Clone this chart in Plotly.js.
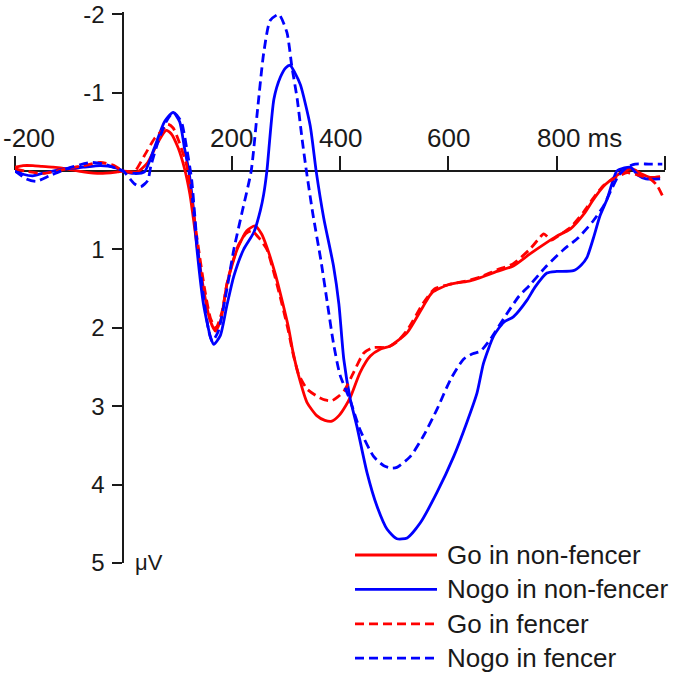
<!DOCTYPE html>
<html>
<head>
<meta charset="utf-8">
<script src="https://cdn.plot.ly/plotly-3.0.1.min.js"></script>
<style>html,body{margin:0;padding:0;background:#fff}</style>
</head>
<body>
<div id="chart" style="width:675px;height:682px"></div>
<script>
// ---- data (time in ms, amplitude in µV; negative plotted upward) ----
const seriesNames = ["Go in non-fencer", "Nogo in non-fencer", "Go in fencer", "Nogo in fencer"];
const seriesColors = ["#ff0000", "#0000ff", "#ff0000", "#0000ff"];
const seriesDash = ["solid", "solid", "9px,5px", "9px,5px"];

const tGoNon = [-200,-185,-167,-150,-130,-105,-74,-42,-11,0,26,45,64,79,88,101,113,123,136,148,160,170,180,191,210,228,243,255,265,280,293,305,313,324,339,357,372,385,398,410,420,437,456,475,493,524,554,570,600,640,659,690,720,750,782,800,825,850,868,887,910,924,939,955,973,991];
const vGoNon = [-0.05,-0.07,-0.07,-0.06,-0.05,-0.03,0.01,0.03,0.01,0,0.01,-0.11,-0.37,-0.52,-0.48,-0.3,-0.03,0.3,0.95,1.5,1.9,2.04,1.9,1.45,1.0,0.76,0.7,0.8,0.97,1.3,1.65,2.0,2.3,2.62,2.95,3.12,3.18,3.19,3.12,3.0,2.87,2.57,2.36,2.27,2.23,2.06,1.72,1.55,1.45,1.40,1.36,1.28,1.21,1.06,0.91,0.83,0.74,0.55,0.36,0.19,0.06,0.0,-0.03,0.03,0.08,0.07];

const tNogoNon = [-200,-185,-167,-150,-136,-105,-74,-42,-17,0,20,39,57,76,92,104,113,121,129,136,148,161,167,179,191,204,222,241,253,259,265,278,290,300,308,317,327,345,356,370,388,398,407,419,431,450,468,487,505,524,548,579,610,634,653,665,684,702,720,745,760,782,800,831,845,856,868,880,893,911,925,936,950,965,991];
const vNogoNon = [0.0,0.04,0.06,0.03,0.01,-0.03,-0.05,-0.07,-0.05,0,0.03,0.01,-0.29,-0.63,-0.75,-0.63,-0.29,0.0,0.45,1.0,1.7,2.12,2.21,2.1,1.72,1.34,1.0,0.78,0.5,0.3,0.0,-0.92,-1.2,-1.32,-1.35,-1.25,-1.1,-0.58,0.0,0.6,1.21,1.7,2.4,2.91,3.25,3.85,4.27,4.57,4.69,4.68,4.49,4.1,3.64,3.21,2.83,2.45,2.1,1.93,1.86,1.65,1.48,1.3,1.28,1.27,1.2,1.1,0.85,0.57,0.36,0.0,-0.04,-0.05,0.05,0.1,0.1];

const tGoFen = [-200,-180,-150,-130,-105,-74,-42,-17,0,20,39,57,72,82,92,101,117,126,138,150,161,171,182,193,212,226,237,250,265,280,293,305,314,324,339,357,372,385,396,407,425,444,462,487,505,524,554,575,600,640,659,690,720,750,765,776,790,800,825,850,868,887,910,930,950,973,985,995];
const vGoFen = [-0.03,0.0,0.03,0.01,-0.03,-0.07,-0.11,-0.07,0,0.01,-0.2,-0.41,-0.52,-0.6,-0.55,-0.41,-0.07,0.35,0.95,1.5,1.88,2.0,1.8,1.38,0.95,0.8,0.76,0.85,1.0,1.35,1.7,2.05,2.35,2.6,2.78,2.87,2.92,2.93,2.88,2.81,2.57,2.32,2.25,2.25,2.18,2.03,1.68,1.5,1.45,1.39,1.35,1.26,1.18,1.0,0.88,0.8,0.88,0.84,0.72,0.52,0.34,0.18,0.08,0.02,0.05,0.1,0.18,0.31];

const tNogoFen = [-200,-179,-161,-136,-105,-61,-36,-11,0,20,32,45,51,64,79,92,107,117,126,136,148,158,164,175,190,204,220,236,248,259,271,287,302,311,321,330,338,350,365,377,388,400,419,437,462,481,495,505,530,554,579,604,628,645,659,677,708,730,751,780,813,840,868,887,900,915,930,945,970,995];
const vNogoFen = [0.0,0.1,0.13,0.06,-0.03,-0.11,-0.09,-0.03,0,0.16,0.2,0.12,-0.07,-0.37,-0.63,-0.75,-0.63,-0.29,0.1,0.9,1.6,2.05,2.17,2.05,1.55,1.0,0.5,0.0,-0.8,-1.5,-1.92,-2.0,-1.77,-1.34,-0.92,-0.41,0.0,0.55,1.15,1.7,2.2,2.6,2.93,3.3,3.64,3.76,3.79,3.78,3.64,3.38,3.04,2.66,2.4,2.33,2.3,2.15,1.82,1.6,1.45,1.22,1.0,0.85,0.63,0.44,0.25,0.05,-0.05,-0.09,-0.09,-0.09];

const seriesT = [tGoNon, tNogoNon, tGoFen, tNogoFen];
const seriesV = [vGoNon, vNogoNon, vGoFen, vNogoFen];

const xTickVals = [-200, 200, 400, 600, 800, 1000];
const xTickLabels = ["-200", "200", "400", "600", "800 ms", ""];
const yTickVals = [-2, -1, 1, 2, 3, 4, 5];
const yTickLabels = ["-2", "-1", "1", "2", "3", "4", "5"];
const yUnit = "\u03bcV";

// ---- layout geometry ----
const W = 675, H = 682;
const M = {l: 15, r: 10, t: 12, b: 119};
const plotW = W - M.l - M.r, plotH = H - M.t - M.b;
const xRange = [-200, 1000];
const yRange = [5, -2.03];
const FONT = "Liberation Sans, Arial, sans-serif";
const INK = "#1a1a1a";

const traces = seriesNames.map((name, i) => ({
  type: "scatter", mode: "lines", name: name,
  x: seriesT[i], y: seriesV[i],
  line: {color: seriesColors[i], width: 2.8, dash: seriesDash[i], shape: "spline", smoothing: 0.6},
  showlegend: false, hoverinfo: "skip"
}));

const annotations = [];
xTickVals.forEach((v, i) => {
  const txt = xTickLabels[i];
  if (!txt) return;
  let anchor = "center", shift = 0;
  if (i === 0) { anchor = "left"; shift = -14; }
  if (txt.indexOf("ms") >= 0) { anchor = "left"; shift = -22; }
  annotations.push({x: v, y: 0, xref: "x", yref: "y", text: txt, showarrow: false,
    xanchor: anchor, yanchor: "middle", xshift: shift, yshift: 33,
    font: {family: FONT, size: 26, color: INK}});
});
annotations.push({x: 0, y: 5, xref: "x", yref: "y", text: yUnit, showarrow: false,
  xanchor: "left", yanchor: "middle", xshift: 10, yshift: 1,
  font: {family: FONT, size: 22, color: INK}});

// custom legend (long line keys)
const shapes = [];
const px2xp = px => (px - M.l) / plotW;
const py2yp = py => (H - M.b - py) / plotH;
seriesNames.forEach((name, i) => {
  const yy = py2yp(555 + i * 34.4);
  shapes.push({type: "line", xref: "paper", yref: "paper",
    x0: px2xp(355), x1: px2xp(437), y0: yy, y1: yy,
    line: {color: seriesColors[i], width: 2.8, dash: seriesDash[i]}});
  annotations.push({xref: "paper", yref: "paper", x: px2xp(445), y: yy, text: name,
    showarrow: false, xanchor: "left", yanchor: "middle",
    font: {family: FONT, size: 26, color: INK}});
});

const layout = {
  width: W, height: H, margin: M,
  paper_bgcolor: "#fff", plot_bgcolor: "#fff",
  showlegend: false,
  font: {family: FONT, color: INK},
  xaxis: {
    range: xRange, anchor: "free", position: (yRange[0] - 0) / (yRange[0] - yRange[1]),
    side: "top", showline: true, linecolor: INK, linewidth: 2,
    tickmode: "array", tickvals: xTickVals, showticklabels: false,
    ticks: "outside", ticklen: 14, tickwidth: 2, tickcolor: INK,
    showgrid: false, zeroline: false, layer: "below traces"
  },
  yaxis: {
    range: yRange, anchor: "free", position: (0 - xRange[0]) / (xRange[1] - xRange[0]),
    side: "left", showline: true, linecolor: INK, linewidth: 2,
    tickmode: "array", tickvals: yTickVals, ticktext: yTickLabels,
    ticks: "outside", ticklen: 10, tickwidth: 2, tickcolor: INK,
    tickfont: {family: FONT, size: 24, color: INK}, ticklabelstandoff: 3,
    showgrid: false, zeroline: false, layer: "below traces"
  },
  shapes: shapes,
  annotations: annotations
};

Plotly.newPlot("chart", traces, layout, {staticPlot: true, displayModeBar: false});
</script>
</body>
</html>
